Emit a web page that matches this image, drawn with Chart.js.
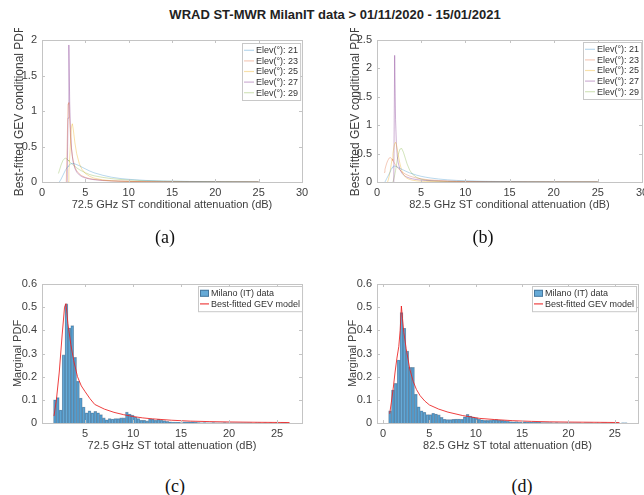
<!DOCTYPE html>
<html>
<head>
<meta charset="utf-8">
<script src="https://cdn.jsdelivr.net/npm/chart.js@4.4.0/dist/chart.umd.min.js"></script>
<style>
  body { margin: 0; width: 644px; height: 495px; overflow: hidden; background: #fff; position: relative; }
  .panel { position: absolute; }
  .panel canvas { display: block; }
  .title { position: absolute; left: 0; top: 7px; width: 670px; text-align: center;
           font: bold 13px "Liberation Sans", Arial, sans-serif; color: #222; }
  .tag { position: absolute; width: 60px; text-align: center;
         font: 18px "Liberation Serif", "Times New Roman", serif; color: #111; }
</style>
</head>
<body>
<div class="title">WRAD ST-MWR MilanIT data &gt; 01/11/2020 - 15/01/2021</div>
<div class="panel" style="left:0;top:28px"><canvas id="chartA" width="320" height="200"></canvas></div>
<div class="panel" style="left:330px;top:28px"><canvas id="chartB" width="340" height="200"></canvas></div>
<div class="panel" style="left:0;top:270px"><canvas id="chartC" width="320" height="200"></canvas></div>
<div class="panel" style="left:330px;top:270px"><canvas id="chartD" width="340" height="200"></canvas></div>
<div class="tag" style="left:135px;top:227px">(a)</div>
<div class="tag" style="left:453px;top:227px">(b)</div>
<div class="tag" style="left:145px;top:476px">(c)</div>
<div class="tag" style="left:492px;top:476px">(d)</div>
<script>
// ---- tick values / labels ----
const xTicksAB = [0, 5, 10, 15, 20, 25, 30];
const xTickLabelsAB = ['0', '5', '10', '15', '20', '25', '30'];
const yTicksA = [0, 0.5, 1, 1.5, 2];
const yTickLabelsA = ['0', '0.5', '1', '1.5', '2'];
const yTicksB = [0, 0.5, 1, 1.5, 2, 2.5];
const yTickLabelsB = ['0', '0.5', '1', '1.5', '2', '2.5'];
const xTicksC = [5, 10, 15, 20, 25];
const xTickLabelsC = ['5', '10', '15', '20', '25'];
const xTicksD = [0, 5, 10, 15, 20, 25];
const xTickLabelsD = ['0', '5', '10', '15', '20', '25'];
const yTicksCD = [0, 0.1, 0.2, 0.3, 0.4, 0.5, 0.6];
const yTickLabelsCD = ['0', '0.1', '0.2', '0.3', '0.4', '0.5', '0.6'];

// ---- (a) 72.5 GHz conditional GEV pdfs, one per elevation ----
const elevLabels = ['Elev(°): 21', 'Elev(°): 23', 'Elev(°): 25', 'Elev(°): 27', 'Elev(°): 29'];
const xA = [1.9, 2.0, 2.2, 2.4, 2.6, 2.7, 2.8, 2.9, 3.0, 3.1, 3.2, 3.3, 3.4, 3.5, 3.6, 3.8, 4.0, 4.3, 4.6, 5.0, 5.5, 6.0, 7.0, 8.0, 9.0, 10, 12, 14, 17, 20, 25];
const pdfA21 = [null, 0, 0.04, 0.09, 0.14, 0.165, 0.185, 0.205, 0.22, 0.235, 0.245, 0.253, 0.258, 0.26, 0.26, 0.255, 0.245, 0.23, 0.21, 0.185, 0.155, 0.13, 0.095, 0.068, 0.05, 0.038, 0.022, 0.014, 0.008, 0.005, 0.002];
const pdfA23 = [null, null, null, null, null, null, 0, 0.5, 1.1, 1.12, 0.85, 0.62, 0.47, 0.37, 0.3, 0.21, 0.16, 0.115, 0.088, 0.065, 0.048, 0.037, 0.024, 0.016, 0.012, 0.009, 0.005, 0.003, 0.002, 0.001, 0.0005];
const pdfA25 = [null, null, null, null, null, null, null, null, 0, 0.15, 0.35, 0.58, 0.78, 0.82, 0.75, 0.55, 0.4, 0.26, 0.18, 0.12, 0.08, 0.055, 0.03, 0.018, 0.012, 0.008, 0.004, 0.002, 0.001, 0.0005, 0.0002];
const pdfA27 = [null, null, null, null, null, null, null, 0, 0.9, 1.93, 1.1, 0.7, 0.48, 0.36, 0.28, 0.19, 0.14, 0.1, 0.075, 0.057, 0.042, 0.033, 0.021, 0.015, 0.011, 0.008, 0.005, 0.003, 0.002, 0.001, 0.0005];
const pdfA29 = [0.12, 0.16, 0.24, 0.3, 0.33, 0.335, 0.33, 0.32, 0.31, 0.295, 0.28, 0.27, 0.26, 0.25, 0.24, 0.22, 0.2, 0.175, 0.155, 0.13, 0.105, 0.088, 0.065, 0.048, 0.036, 0.028, 0.017, 0.011, 0.006, 0.004, 0.002];

// ---- (b) 82.5 GHz conditional GEV pdfs ----
const xB = [0.8, 0.9, 1.0, 1.1, 1.2, 1.3, 1.4, 1.5, 1.6, 1.7, 1.8, 1.9, 2.0, 2.1, 2.2, 2.3, 2.4, 2.6, 2.8, 3.0, 3.2, 3.4, 3.7, 4.0, 4.5, 5.0, 5.5, 6, 7, 8, 9, 10, 12, 14, 17, 20, 25];
const pdfB21 = [null, 0, 0.03, 0.06, 0.09, 0.12, 0.15, 0.18, 0.22, 0.25, 0.27, 0.28, 0.28, 0.275, 0.27, 0.262, 0.255, 0.24, 0.225, 0.21, 0.195, 0.18, 0.16, 0.145, 0.12, 0.1, 0.085, 0.072, 0.052, 0.038, 0.028, 0.021, 0.012, 0.008, 0.004, 0.002, 0.001];
const pdfB23 = [0.17, 0.22, 0.28, 0.33, 0.37, 0.4, 0.425, 0.43, 0.42, 0.4, 0.375, 0.35, 0.325, 0.3, 0.28, 0.26, 0.24, 0.21, 0.18, 0.16, 0.14, 0.125, 0.105, 0.09, 0.07, 0.056, 0.045, 0.037, 0.026, 0.019, 0.014, 0.011, 0.007, 0.004, 0.002, 0.001, 0.0005];
const pdfB25 = [null, null, null, null, 0, 0.05, 0.12, 0.2, 0.3, 0.4, 0.5, 0.6, 0.67, 0.7, 0.66, 0.58, 0.48, 0.32, 0.2, 0.13, 0.09, 0.065, 0.045, 0.032, 0.02, 0.014, 0.01, 0.008, 0.005, 0.003, 0.002, 0.0015, 0.001, 0.0005, 0.0003, 0.0002, 0.0001];
const pdfB27 = [null, null, null, null, null, null, null, null, null, null, null, 0, 2.23, 1.1, 0.65, 0.45, 0.34, 0.22, 0.16, 0.125, 0.1, 0.085, 0.068, 0.056, 0.042, 0.033, 0.027, 0.022, 0.016, 0.012, 0.009, 0.007, 0.005, 0.003, 0.002, 0.001, 0.0006];
const pdfB29 = [null, null, null, null, null, null, null, null, null, null, 0, 0.05, 0.12, 0.2, 0.3, 0.4, 0.48, 0.58, 0.59, 0.52, 0.42, 0.32, 0.21, 0.14, 0.08, 0.05, 0.035, 0.025, 0.014, 0.009, 0.006, 0.004, 0.002, 0.001, 0.0006, 0.0004, 0.0002];

// ---- (c) 72.5 GHz total attenuation histogram + GEV fit ----
const binStartC = 1.7, binWidthC = 0.3;
const histC = [0.100, 0.110, 0.056, 0.294, 0.514, 0.410, 0.420, 0.283, 0.180, 0.108,
               0.069, 0.044, 0.053, 0.044, 0.050, 0.044, 0.036, 0.022, 0.014, 0.019,
               0.017, 0.019, 0.019, 0.022, 0.022, 0.047, 0.039, 0.034, 0.026, 0.019,
               0.012, 0.012, 0.009, 0.017, 0.017, 0.012, 0.016, 0.012, 0.010, 0.007,
               0.005, 0.004, 0.004, 0.003, 0.002, 0.005, 0.005, 0.005, 0.005, 0.004,
               0.002, 0.001, 0.002, 0.001, 0.001, 0.002, 0.001, 0.001, 0.001, 0.002,
               0.001, 0.001, 0.001, 0.001, 0.001, 0.001, 0.001, 0.001, 0.001, 0, 0.001,
               0.001, 0, 0.001, 0, 0.001, 0, 0.001, 0, 0.001, 0.001];
const gevXC = [1.75, 2.0, 2.3, 2.6, 2.85, 3.0, 3.2, 3.5, 3.8, 4.2, 4.6, 5.0, 5.5, 6.0, 7.0, 8.0, 9.0, 10, 11, 12, 14, 16, 18, 20, 23, 26.3];
const gevYC = [0.03, 0.1, 0.22, 0.38, 0.5, 0.515, 0.43, 0.34, 0.27, 0.2, 0.16, 0.135, 0.105, 0.08, 0.06, 0.046, 0.036, 0.028, 0.022, 0.018, 0.012, 0.008, 0.006, 0.0045, 0.003, 0.002];

// ---- (d) 82.5 GHz total attenuation histogram + GEV fit ----
const binStartD = 0.6, binWidthD = 0.31;
const histD = [0.052, 0.142, 0.171, 0.272, 0.477, 0.409, 0.310, 0.240, 0.240, 0.124,
               0.070, 0.053, 0.046, 0.036, 0.036, 0.042, 0.039, 0.035, 0.024, 0.016,
               0.015, 0.015, 0.016, 0.017, 0.017, 0.016, 0.027, 0.037, 0.030, 0.026,
               0.022, 0.016, 0.014, 0.011, 0.011, 0.012, 0.014, 0.015, 0.012, 0.011,
               0.010, 0.008, 0.006, 0.005, 0.006, 0.004, 0.004, 0.005, 0.003, 0.003,
               0.004, 0.003, 0.003, 0.002, 0.002, 0.002, 0.002, 0.001, 0.002, 0.001,
               0.001, 0.001, 0.002, 0.001, 0.001, 0.001, 0.001, 0, 0.001, 0.001,
               0.001, 0, 0.001, 0, 0.001, 0.001, 0, 0.001, 0, 0.001, 0, 0.001, 0.001];
const gevXD = [0.72, 0.9, 1.1, 1.3, 1.5, 1.7, 1.85, 1.98, 2.1, 2.25, 2.5, 2.9, 3.25, 3.6, 4.0, 4.5, 5.0, 6.0, 7.0, 8.6, 10.4, 12, 14, 16, 18, 20, 23, 25.5];
const gevYD = [0.04, 0.09, 0.15, 0.22, 0.28, 0.33, 0.4, 0.505, 0.45, 0.39, 0.32, 0.23, 0.18, 0.145, 0.118, 0.095, 0.078, 0.06, 0.047, 0.032, 0.02, 0.015, 0.01, 0.007, 0.005, 0.004, 0.003, 0.002];

const FONT = '"Liberation Sans", Arial, sans-serif';
const TXT = '#404040';
const elevColors = ['rgba(0,114,189,0.28)', 'rgba(217,83,25,0.3)', 'rgba(237,177,32,0.38)', 'rgba(126,47,142,0.38)', 'rgba(119,172,48,0.32)'];

// MATLAB-ish axes box with inward tick marks on all four sides
const axesBox = {
    id: 'axesBox',
    afterDatasetsDraw(chart) {
        const {ctx, chartArea: a, scales: {x, y}} = chart;
        ctx.save();
        ctx.strokeStyle = '#c4c4c4';
        ctx.lineWidth = 1;
        ctx.strokeRect(Math.round(a.left) + 0.5, Math.round(a.top) + 0.5,
                       Math.round(a.right - a.left), Math.round(a.bottom - a.top));
        const tl = 3;
        ctx.beginPath();
        x.ticks.forEach(t => {
            const px = Math.round(x.getPixelForValue(t.value)) + 0.5;
            ctx.moveTo(px, a.bottom); ctx.lineTo(px, a.bottom - tl);
            ctx.moveTo(px, a.top); ctx.lineTo(px, a.top + tl);
        });
        y.ticks.forEach(t => {
            const py = Math.round(y.getPixelForValue(t.value)) + 0.5;
            ctx.moveTo(a.left, py); ctx.lineTo(a.left + tl, py);
            ctx.moveTo(a.right, py); ctx.lineTo(a.right - tl, py);
        });
        ctx.stroke();
        ctx.restore();
    }
};

// legend box drawn inside the top-right corner of the plot
const boxLegend = {
    id: 'boxLegend',
    afterDraw(chart, args, opts) {
        const {ctx, chartArea} = chart;
        const items = chart.data.datasets;
        ctx.save();
        ctx.font = '9px ' + FONT;
        const textW = Math.max(...items.map(d => ctx.measureText(d.label).width));
        const rowH = 10.6;
        const w = 2 + opts.symbolW + 2 + textW + 2;
        const h = items.length * rowH + 4;
        const bx = Math.round(chartArea.right - opts.dx - w);
        const by = Math.round(chartArea.top + opts.dy);
        ctx.fillStyle = '#fff';
        ctx.fillRect(bx, by, w, h);
        ctx.strokeStyle = '#c8c8c8';
        ctx.lineWidth = 1;
        ctx.strokeRect(bx + 0.5, by + 0.5, w, h);
        items.forEach((d, i) => {
            const cy = by + 2 + rowH * (i + 0.5);
            if (d.type === 'bar') {
                ctx.fillStyle = d.backgroundColor;
                ctx.fillRect(bx + 2, cy - 3.5, opts.symbolW, 7);
                ctx.strokeStyle = d.borderColor;
                ctx.strokeRect(bx + 2.5, cy - 3, opts.symbolW - 1, 6);
            } else {
                ctx.strokeStyle = d.borderColor;
                ctx.lineWidth = 1.2;
                ctx.beginPath();
                ctx.moveTo(bx + 2, cy); ctx.lineTo(bx + 2 + opts.symbolW, cy);
                ctx.stroke();
            }
            ctx.fillStyle = '#333';
            ctx.textBaseline = 'middle';
            ctx.fillText(d.label, bx + 4 + opts.symbolW, cy + 0.5);
        });
        ctx.restore();
    }
};

function makeScales(p) {
    return {
        x: {
            type: 'linear', min: p.xMin, max: p.xMax, offset: false,
            afterBuildTicks: s => { s.ticks = p.xTicks.map(v => ({value: v})); },
            afterFit: s => { s.height = 32; },
            grid: {display: false, drawTicks: false, offset: false},
            border: {display: false},
            ticks: {autoSkip: false, maxRotation: 0, padding: 4, color: TXT,
                    font: {family: FONT, size: 11}, callback: (v, i) => p.xLabels[i]},
            title: {display: true, text: p.xTitle, color: TXT,
                    font: {family: FONT, size: 11}, padding: {top: 0, bottom: 2}}
        },
        y: {
            type: 'linear', min: p.yMin, max: p.yMax,
            afterBuildTicks: s => { s.ticks = p.yTicks.map(v => ({value: v})); },
            afterFit: s => { s.width = p.yWidth; },
            grid: {display: false, drawTicks: false},
            border: {display: false},
            ticks: {autoSkip: false, padding: 5, color: TXT,
                    font: {family: FONT, size: 11}, callback: (v, i) => p.yLabels[i]},
            title: {display: true, text: p.yTitle, color: TXT,
                    font: {family: FONT, size: p.yTitleSize}, padding: {top: p.yTitlePad, bottom: 0}}
        }
    };
}

function baseOptions(p) {
    return {
        responsive: false,
        animation: false,
        layout: {padding: p.pad},
        plugins: {
            legend: {display: false},
            tooltip: {enabled: false},
            boxLegend: p.legend
        },
        scales: makeScales(p)
    };
}

function elevSets(xs, curves) {
    return curves.map((ys, k) => ({
        type: 'line',
        label: elevLabels[k],
        data: xs.map((x, i) => ({x: x, y: ys[i]})),
        borderColor: elevColors[k],
        borderWidth: 1,
        pointRadius: 0,
        tension: 0,
        spanGaps: false
    }));
}

function histSets(start, width, hist, gx, gy) {
    return [{
        type: 'bar',
        label: 'Milano (IT) data',
        data: hist.map((v, i) => ({x: start + width * (i + 0.5), y: v})),
        backgroundColor: 'rgba(0,114,189,0.6)',
        borderColor: 'rgba(30,60,90,0.45)',
        borderWidth: 0.6,
        barPercentage: 1,
        categoryPercentage: 1,
        order: 2
    }, {
        type: 'line',
        label: 'Best-fitted GEV model',
        data: gx.map((x, i) => ({x: x, y: gy[i]})),
        borderColor: 'rgba(235,30,30,0.85)',
        borderWidth: 1,
        pointRadius: 0,
        tension: 0,
        order: 1
    }];
}

new Chart(document.getElementById('chartA'), {
    type: 'line',
    data: {datasets: elevSets(xA, [pdfA21, pdfA23, pdfA25, pdfA27, pdfA29])},
    options: baseOptions({
        xMin: 0, xMax: 30, xTicks: xTicksAB, xLabels: xTickLabelsAB,
        yMin: 0, yMax: 2, yTicks: yTicksA, yLabels: yTickLabelsA,
        xTitle: '72.5 GHz ST conditional attenuation (dB)',
        yTitle: 'Best-fitted GEV conditional PDF', yTitleSize: 12,
        yWidth: 42, yTitlePad: 12,
        pad: {top: 12, right: 18, bottom: 14, left: 0},
        legend: {dx: 1.5, dy: 3, symbolW: 10}
    }),
    plugins: [axesBox, boxLegend]
});

new Chart(document.getElementById('chartB'), {
    type: 'line',
    data: {datasets: elevSets(xB, [pdfB21, pdfB23, pdfB25, pdfB27, pdfB29])},
    options: baseOptions({
        xMin: 0, xMax: 30, xTicks: xTicksAB, xLabels: xTickLabelsAB,
        yMin: 0, yMax: 2.5, yTicks: yTicksB, yLabels: yTickLabelsB,
        xTitle: '82.5 GHz ST conditional attenuation (dB)',
        yTitle: 'Best-fitted GEV conditional PDF', yTitleSize: 12,
        yWidth: 47, yTitlePad: 18,
        pad: {top: 12, right: 28, bottom: 14, left: 0},
        legend: {dx: 0.5, dy: 2, symbolW: 10}
    }),
    plugins: [axesBox, boxLegend]
});

new Chart(document.getElementById('chartC'), {
    type: 'bar',
    data: {datasets: histSets(binStartC, binWidthC, histC, gevXC, gevYC)},
    options: baseOptions({
        xMin: 0.5, xMax: 27.6, xTicks: xTicksC, xLabels: xTickLabelsC,
        yMin: 0, yMax: 0.6, yTicks: yTicksCD, yLabels: yTickLabelsCD,
        xTitle: '72.5 GHz ST total attenuation (dB)',
        yTitle: 'Marginal PDF', yTitleSize: 11,
        yWidth: 42, yTitlePad: 11,
        pad: {top: 14, right: 18, bottom: 15, left: 0},
        legend: {dx: 0, dy: 2, symbolW: 9}
    }),
    plugins: [axesBox, boxLegend]
});

new Chart(document.getElementById('chartD'), {
    type: 'bar',
    data: {datasets: histSets(binStartD, binWidthD, histD, gevXD, gevYD)},
    options: baseOptions({
        xMin: -0.65, xMax: 27.5, xTicks: xTicksD, xLabels: xTickLabelsD,
        yMin: 0, yMax: 0.6, yTicks: yTicksCD, yLabels: yTickLabelsCD,
        xTitle: '82.5 GHz ST total attenuation (dB)',
        yTitle: 'Marginal PDF', yTitleSize: 11,
        yWidth: 47, yTitlePad: 16,
        pad: {top: 14, right: 32, bottom: 15, left: 0},
        legend: {dx: 2, dy: 2, symbolW: 9}
    }),
    plugins: [axesBox, boxLegend]
});
</script>
</body>
</html>
